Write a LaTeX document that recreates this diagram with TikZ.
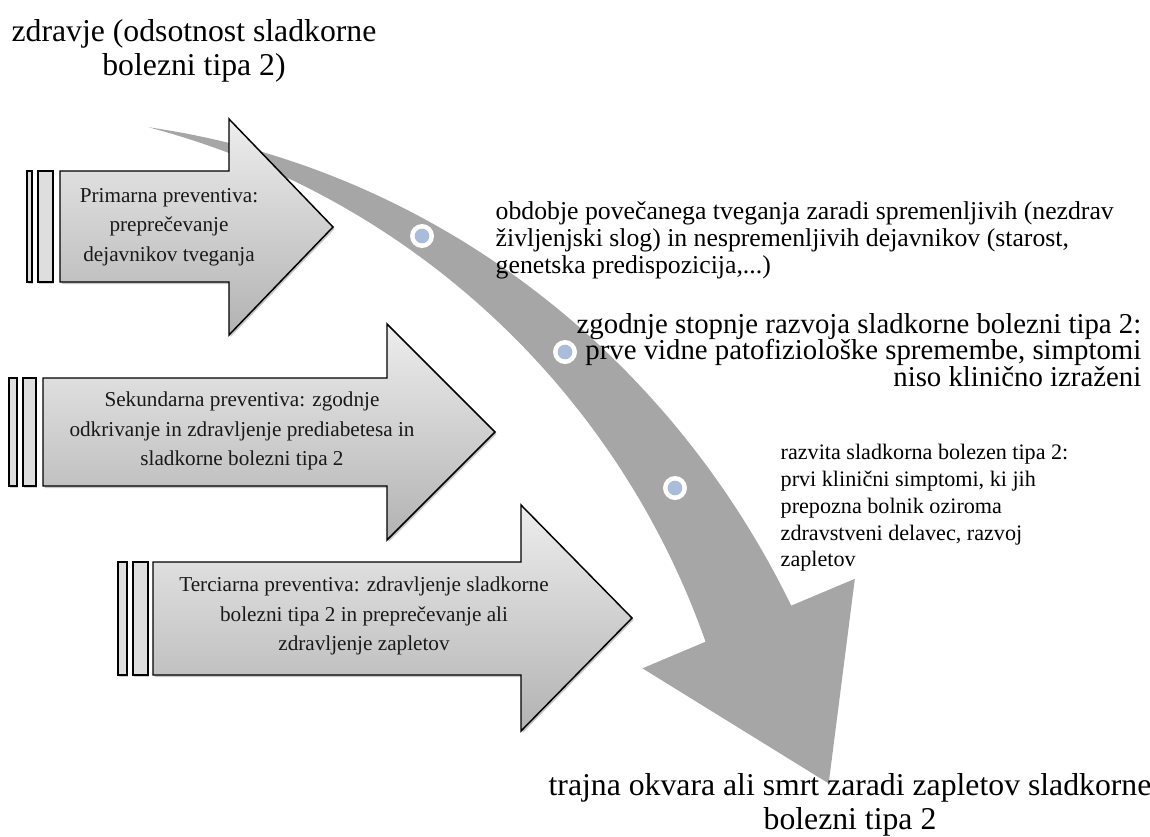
\documentclass[tikz,border=0pt]{standalone}
\usepackage{fontspec}
\setmainfont{Liberation Serif}
\usetikzlibrary{shadows}
\definecolor{bandgray}{HTML}{A6A6A6}
\definecolor{dotblue}{HTML}{A9BDDB}
\begin{document}
\begin{tikzpicture}[x=0.75pt,y=-0.75pt,
  parrow/.style={draw=black, line width=1.1pt, line join=miter,
    top color=black!7, bottom color=black!30,
    drop shadow={shadow xshift=1.2pt, shadow yshift=-1.5pt, opacity=0.22, fill=black}},
  stripe/.style={draw=black, line width=1.1pt, fill=black!13,
    drop shadow={shadow xshift=0.8pt, shadow yshift=-1.2pt, opacity=0.18, fill=black}},
  dotring/.style={circle, fill=white, minimum size=18pt, inner sep=0pt},
  dotcore/.style={circle, fill=dotblue, minimum size=11pt, inner sep=0pt},
  arrowtext/.style={align=center, font=\fontsize{15.9}{22}\selectfont, text=black!90},
  bigtext/.style={align=center, font=\fontsize{23.8}{25.5}\selectfont}]
\useasboundingbox (0,0) rectangle (1150,836);
% big curved arrow
\begin{scope}[shift={(-45,958)}]
\fill[bandgray] plot[domain=76.9:22.85, samples=70] (-\x:{861-8*((\x-22.85)/54.05)^3+0.86*(76.9-\x)})
  -- (-22.85:976.5) -- (-11.3:891) -- (-22.85:746)
  -- plot[domain=22.85:76.9, samples=70] (-\x:{861-8*((\x-22.85)/54.05)^3-0.86*(76.9-\x)}) -- cycle;
\end{scope}
% dots
\foreach \n/\p in {d1/{(422,236)}, d2/{(565,352)}, d3/{(675,488)}} {
  \node[dotring] (\n) at \p {};
  \node[dotcore] at (\n) {};
}
% arrow 1
\path[stripe] (27,171) rectangle (32,282);
\path[stripe] (38,171) rectangle (53,282);
\path[parrow] (60,171) -- (229,171) -- (229,119) -- (333,227) -- (229,335) -- (229,282) -- (60,282) -- cycle;
% arrow 2
\path[stripe] (9,378) rectangle (17,486);
\path[stripe] (23,378) rectangle (36,486);
\path[parrow] (43,378) -- (387,378) -- (387,324) -- (495,432) -- (387,540) -- (387,486) -- (43,486) -- cycle;
% arrow 3
\path[stripe] (118,562) rectangle (127,675);
\path[stripe] (133,562) rectangle (148,675);
\path[parrow] (153,562) -- (521,562) -- (521,505) -- (632,618) -- (521,731) -- (521,675) -- (153,675) -- cycle;
% arrow texts
\node[arrowtext] (t1) at (169,227) {Primarna preventiva:\\ preprečevanje\\ dejavnikov tveganja};
\node[arrowtext] (t2) at (242,431) {Sekundarna preventiva: zgodnje\\ odkrivanje in zdravljenje prediabetesa in\\ sladkorne bolezni tipa 2};
\node[arrowtext] (t3) at (364,616) {Terciarna preventiva: zdravljenje sladkorne\\ bolezni tipa 2 in preprečevanje ali\\ zdravljenje zapletov};
% side texts
\node[anchor=west, align=left, font=\fontsize{19.3}{20.2}\selectfont] (s1) at (491,240) {obdobje povečanega tveganja zaradi spremenljivih (nezdrav\\ življenjski slog) in nespremenljivih dejavnikov (starost,\\ genetska predispozicija,...)};
\node[anchor=east, align=right, font=\fontsize{21.6}{19.9}\selectfont] (s2) at (1146,350) {zgodnje stopnje razvoja sladkorne bolezni tipa 2:\\ prve vidne patofiziološke spremembe, simptomi\\ niso klinično izraženi};
\node[anchor=west, align=left, font=\fontsize{16.6}{20.1}\selectfont] (s3) at (776,508) {razvita sladkorna bolezen tipa 2:\\ prvi klinični simptomi, ki jih\\ prepozna bolnik oziroma\\ zdravstveni delavec, razvoj\\ zapletov};
% top and bottom
\node[bigtext] (top) at (194,51) {zdravje (odsotnost sladkorne\\ bolezni tipa 2)};
\node[bigtext] (bottom) at (850,805) {trajna okvara ali smrt zaradi zapletov sladkorne\\ bolezni tipa 2};
\end{tikzpicture}
\end{document}
